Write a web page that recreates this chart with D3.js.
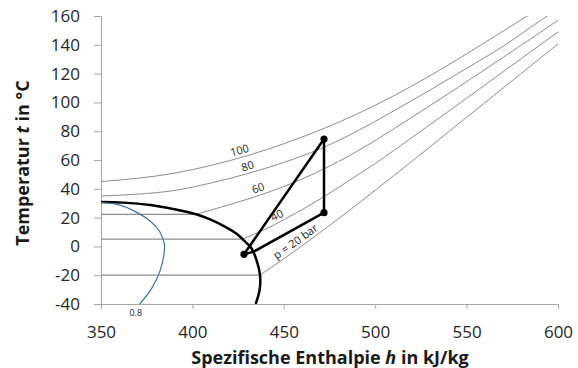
<!DOCTYPE html>
<html>
<head>
    <meta charset="utf-8">
    <title>T-h Diagramm</title>
    <script src="https://d3js.org/d3.v7.min.js"></script>
    <style>
        body { margin: 0; background: white; }
        text { font-family: "Open Sans", Lato, sans-serif; }
    </style>
</head>
<body>
    <div id="chart"></div>
    <script>
        // Achsen
        const xTicks = [350, 400, 450, 500, 550, 600];
        const yTicks = [-40, -20, 0, 20, 40, 60, 80, 100, 120, 140, 160];

        // Isobaren: erster Punkt = Austritt aus dem Nassdampfgebiet (davor waagerecht ab h = 350)
        const pressures = [20, 40, 60, 80, 100];
        const isobar20 = [[437, -19.9], [450, -8.6], [460, 0.5], [470, 9.8], [480, 19.3], [490, 29], [500, 39], [510, 49], [520, 59], [530, 69.2], [540, 79.4], [550, 89.6], [560, 99.8], [570, 110], [580, 120.2], [590, 130.4], [600, 140.6]];
        const isobar40 = [[427.6, 5.1], [440, 12], [450, 18.5], [460, 25.5], [470, 33], [480, 41], [490, 49.3], [500, 57.5], [510, 66.5], [520, 75.5], [530, 84.6], [540, 93.7], [550, 102.9], [560, 112.1], [570, 121.3], [580, 130.5], [590, 139.7], [600, 148.9]];
        const isobar60 = [[402, 22.3], [410, 25.2], [420, 28.9], [430, 32.7], [440, 36.9], [450, 41.6], [460, 46.8], [470, 52.6], [480, 59], [490, 66], [500, 73.5], [510, 81.5], [520, 89.6], [530, 97.8], [540, 106], [550, 114.4], [560, 122.8], [570, 131.3], [580, 139.8], [590, 148.4], [600, 157]];
        const isobar80 = [[350, 35], [370, 36.3], [390, 38.8], [410, 44], [430, 50.5], [450, 58.3], [470, 67.8], [490, 80], [510, 94], [530, 108.6], [550, 123.6], [570, 139], [590, 156.5], [600, 165]];
        const isobar100 = [[350, 45], [370, 47.3], [390, 50.8], [410, 56.2], [430, 63], [450, 71.3], [470, 80.9], [490, 91.9], [510, 104.5], [530, 118.5], [550, 133.7], [570, 149.5], [590, 165.5]];
        const isobars = [isobar20, isobar40, isobar60, isobar80, isobar100];
        const flatFrom = [true, true, true, false, false];

        // Beschriftung der Isobaren (Lage als h-Wert auf der Kurve)
        const isobarLabels = ["p = 20 bar", "40", "60", "80", "100"];
        const labelH = [458.7, 448, 437.2, 431.3, 426.8];

        // Grenzkurve (Siedelinie + Taulinie)
        const dome = [[350, 30.8], [362, 30.4], [377, 28.7], [390, 25.8], [402, 22.3], [410, 18.6], [418, 13.6], [424, 9], [427.8, 4.6], [432.3, -1.3], [435.2, -10], [437, -19.9], [436.8, -30], [434.6, -40]];

        // Linie gleichen Dampfgehalts x = 0.8
        const quality08 = [[350, 30.5], [360, 28.8], [367.5, 25], [377, 17.5], [382, 10.5], [384.6, 2], [384.5, -5], [382.3, -17], [377.8, -29], [371.2, -40]];

        // Kreisprozess
        const cycle = [[428.2, -5.5], [472, 74.6], [472, 23.4], [433.3, -3.8], [428.2, -5.5]];
        const cyclePoints = [[428.2, -5.5], [472, 74.6], [472, 23.4]];

        const width = 578, height = 368;
        const margin = { top: 16, right: 20, bottom: 64, left: 101 };

        const x = d3.scaleLinear().domain([350, 600]).range([margin.left, width - margin.right]);
        const y = d3.scaleLinear().domain([-40, 160]).range([height - margin.bottom, margin.top]);

        const svg = d3.select("#chart").append("svg")
            .attr("width", width)
            .attr("height", height);

        svg.append("defs").append("clipPath").attr("id", "plot")
            .append("rect")
            .attr("x", margin.left).attr("y", margin.top)
            .attr("width", width - margin.left - margin.right)
            .attr("height", height - margin.top - margin.bottom);

        // Achsen
        const yAxis = svg.append("g")
            .attr("transform", `translate(${margin.left},0)`)
            .call(d3.axisLeft(y).tickValues(yTicks).tickFormat(d => String(d))
                .tickSize(7).tickSizeOuter(0).tickPadding(14));
        const xAxis = svg.append("g")
            .attr("transform", `translate(0,${height - margin.bottom})`)
            .call(d3.axisBottom(x).tickValues(xTicks).tickFormat(d => String(d))
                .tickSize(5).tickSizeOuter(0));

        [xAxis, yAxis].forEach(g => {
            g.select(".domain").attr("stroke", "#a6a6a6");
            g.selectAll(".tick line").attr("stroke", "#a6a6a6");
            g.selectAll("text")
                .style("font-size", "17px")
                .attr("fill", "#262626");
        });
        xAxis.selectAll("text").attr("dy", null).attr("y", 34);

        const plot = svg.append("g").attr("clip-path", "url(#plot)");

        const smooth = d3.line().x(d => x(d[0])).y(d => y(d[1])).curve(d3.curveMonotoneX);
        const round = d3.line().x(d => x(d[0])).y(d => y(d[1])).curve(d3.curveCatmullRom.alpha(0.5));
        const straight = d3.line().x(d => x(d[0])).y(d => y(d[1]));

        // Isobaren
        isobars.forEach((pts, i) => {
            if (flatFrom[i]) {
                plot.append("path")
                    .attr("d", straight([[350, pts[0][1]], pts[0]]))
                    .attr("fill", "none")
                    .attr("stroke", "#8c8c8c")
                    .attr("stroke-width", 1.2);
            }
            plot.append("path")
                .attr("d", smooth(pts))
                .attr("fill", "none")
                .attr("stroke", "#8c8c8c")
                .attr("stroke-width", 1);
        });

        // Grenzkurve
        plot.append("path")
            .attr("d", round(dome))
            .attr("fill", "none")
            .attr("stroke", "black")
            .attr("stroke-width", 2.5);

        plot.append("path")
            .attr("d", round(quality08))
            .attr("fill", "none")
            .attr("stroke", "#41719c")
            .attr("stroke-width", 1.2);

        // Kreisprozess
        plot.append("path")
            .attr("d", straight(cycle))
            .attr("fill", "none")
            .attr("stroke", "black")
            .attr("stroke-width", 2.5)
            .attr("stroke-linejoin", "round");

        plot.selectAll("circle")
            .data(cyclePoints)
            .join("circle")
            .attr("cx", d => x(d[0]))
            .attr("cy", d => y(d[1]))
            .attr("r", 3.6)
            .attr("fill", "black");

        // Beschriftungen der Isobaren, entlang der Kurve gedreht
        function onCurve(pts, h) {
            let k = 1;
            while (k < pts.length - 1 && pts[k][0] < h) k++;
            const a = pts[k - 1], b = pts[k];
            const f = (h - a[0]) / (b[0] - a[0]);
            const px = x(h), py = y(a[1] + f * (b[1] - a[1]));
            const ang = Math.atan2(y(b[1]) - y(a[1]), x(b[0]) - x(a[0])) * 180 / Math.PI;
            return [px, py, ang];
        }

        svg.selectAll("text.iso")
            .data(isobarLabels)
            .join("text")
            .attr("class", "iso")
            .attr("transform", (d, i) => {
                const [px, py, ang] = onCurve(isobars[i], labelH[i]);
                return `translate(${px},${py}) rotate(${ang})`;
            })
            .attr("text-anchor", "middle")
            .attr("dy", "-0.3em")
            .style("font-size", "11px")
            .attr("fill", "#262626")
            .text(d => d);

        svg.append("text")
            .attr("x", x(369))
            .attr("y", 316)
            .attr("text-anchor", "middle")
            .style("font-size", "9px")
            .attr("fill", "#262626")
            .text("0.8");

        // Achsentitel
        const xt = svg.append("text")
            .attr("x", 330)
            .attr("y", 364)
            .attr("text-anchor", "middle")
            .style("font-size", "18px")
            .style("font-weight", "bold")
            .attr("fill", "#1a1a1a");
        xt.append("tspan").text("Spezifische Enthalpie ");
        xt.append("tspan").style("font-style", "italic").text("h");
        xt.append("tspan").text(" in kJ/kg");

        const yt = svg.append("text")
            .attr("transform", "translate(29,163) rotate(-90)")
            .attr("text-anchor", "middle")
            .style("font-size", "18px")
            .style("font-weight", "bold")
            .attr("fill", "#1a1a1a");
        yt.append("tspan").text("Temperatur ");
        yt.append("tspan").style("font-style", "italic").text("t");
        yt.append("tspan").text(" in °C");
    </script>
</body>
</html>
